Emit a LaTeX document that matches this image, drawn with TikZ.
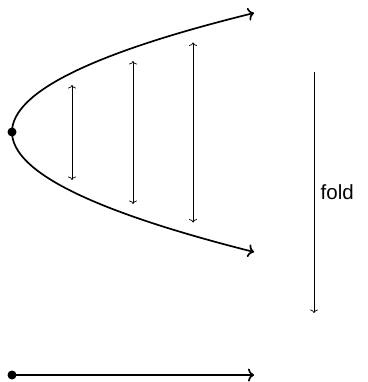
\documentclass[tikz,border=0pt]{standalone}
\usepackage{fontspec}
\setmainfont{Liberation Sans}
\usepackage{tikz}
\usetikzlibrary{arrows.meta, positioning}
\tikzset{
	dot/.style={circle, fill=black, inner sep=0pt, minimum size=9pt},
	curve/.style={line width=1.7pt, -{To[length=6pt, width=13pt]}},
	span/.style={line width=0.7pt, {To[length=3.5pt, width=8pt]}-{To[length=3.5pt, width=8pt]}},
	foldarrow/.style={line width=0.7pt, -{To[length=3.5pt, width=8pt]}},
}

\begin{document}
\begin{tikzpicture}[x=1pt, y=-1pt, font=\fontsize{20.5}{24}\selectfont]
	\useasboundingbox (0,0) rectangle (367,382);
	% parabola with its apex
	\node[dot] (apex) at (12,132) {};
	\coordinate (upper) at (254,13);
	\coordinate (lower) at (254,252);
	\draw[curve] (apex.center) .. controls (12,92.3) and (92.7,52.7) .. (upper);
	\draw[curve] (apex.center) .. controls (12,171.7) and (92.7,211.3) .. (lower);
	% vertical spans inside
	\foreach \x/\h in {72/47.5, 133/71.5, 193/90} {
		\coordinate (up\x) at (\x,132.5-\h);
		\coordinate (dn\x) at (\x,132.5+\h);
		\draw[span] (up\x) -- (dn\x);
	}
	% fold arrow
	\coordinate (foldtop) at (314,72);
	\coordinate (foldbot) at (314,313);
	\draw[foldarrow] (foldtop) -- (foldbot) node[midway, right=3pt] (foldlabel) {fold};
	% folded line
	\node[dot] (base) at (12,375) {};
	\coordinate (baseend) at (254,375);
	\draw[curve] (base.center) -- (baseend);
\end{tikzpicture}
\end{document}
